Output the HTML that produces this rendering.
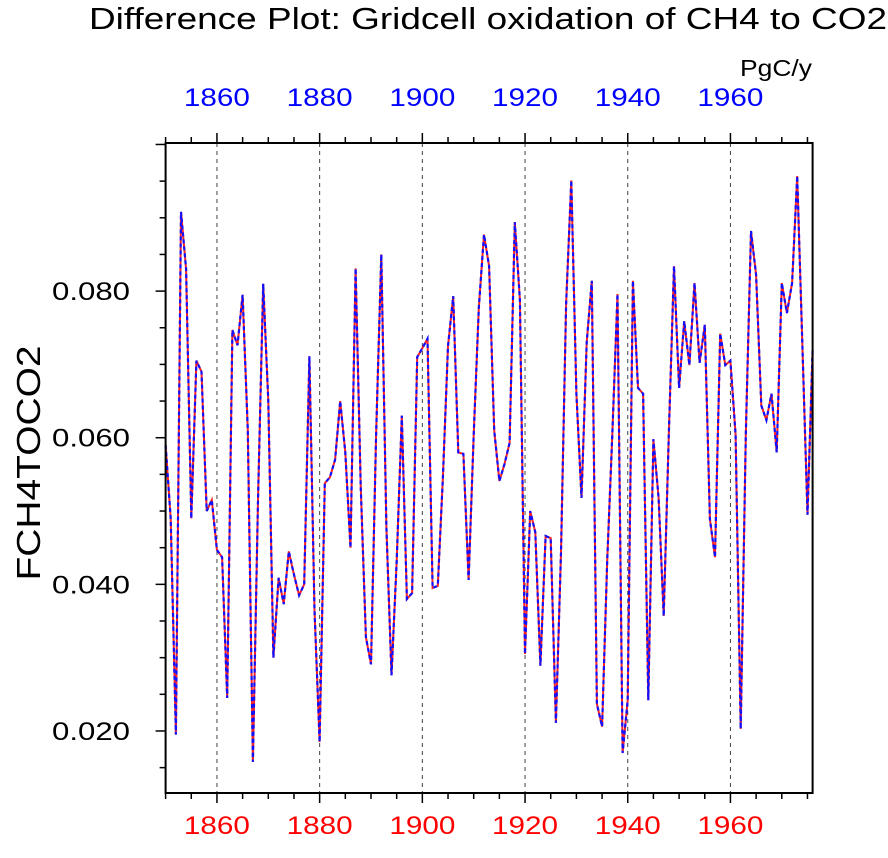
<!DOCTYPE html>
<html><head><meta charset="utf-8"><style>
body{margin:0;background:#fff;}
svg text{font-family:"Liberation Sans",Arial,sans-serif;}
</style></head><body>
<svg id="chart" width="888" height="853" xmlns="http://www.w3.org/2000/svg">
<text x="89" y="29" font-size="31" textLength="798" lengthAdjust="spacingAndGlyphs">Difference Plot: Gridcell oxidation of CH4 to CO2</text>
<text x="740" y="76" font-size="23" textLength="72" lengthAdjust="spacingAndGlyphs">PgC/y</text>
<text transform="translate(40,463) rotate(-90)" font-size="33" text-anchor="middle" textLength="235" lengthAdjust="spacingAndGlyphs">FCH4TOCO2</text>
<g id="grid"></g><g id="series"></g><g id="axes"></g>
</svg>
<script>
const years = [];
for (let y = 1850; y <= 1976; y++) years.push(y);
const seriesA = [0.059,0.049,0.0195,0.0908,0.083,0.049,0.0705,0.069,0.050,0.0515,
0.0447,0.0437,0.0245,0.0747,0.0726,0.0795,0.061,0.0158,0.0515,0.081,
0.065,0.030,0.0409,0.0373,0.0445,0.0413,0.0385,0.040,0.0711,0.0365,
0.0185,0.0538,0.0546,0.057,0.065,0.058,0.045,0.0831,0.0535,0.0328,
0.0291,0.0604,0.085,0.0478,0.0276,0.0432,0.063,0.038,0.0388,0.071,
0.0722,0.0735,0.0395,0.0398,0.0546,0.0725,0.0793,0.058,0.0578,0.0406,
0.0604,0.0777,0.0877,0.0834,0.061,0.0541,0.0564,0.0593,0.0894,0.0788,
0.0305,0.050,0.0471,0.0289,0.0466,0.0463,0.0211,0.0443,0.0782,0.0951,
0.066,0.0518,0.073,0.0814,0.0237,0.0206,0.0432,0.0604,0.0796,0.017,
0.0242,0.0814,0.0668,0.066,0.0242,0.0598,0.0518,0.0357,0.0604,0.0834,
0.0668,0.0759,0.0699,0.0811,0.0702,0.0754,0.0489,0.0437,0.0742,0.0699,
0.0705,0.0604,0.0203,0.0604,0.0882,0.0822,0.0644,0.0624,0.066,0.058,
0.0811,0.077,0.0811,0.0957,0.073,0.0495,0.072];
const seriesB = seriesA.slice();
const xTicks = [1860,1880,1900,1920,1940,1960];
const yTicks = [0.020,0.040,0.060,0.080];
const yTickLabels = ["0.020","0.040","0.060","0.080"];

const L=165.6,R=812.6,T=143,B=793,X0=1850,X1=1976,Y0=0.01154,Y1=0.1002;
const sx=v=>L+(v-X0)/(X1-X0)*(R-L);
const sy=v=>B-(v-Y0)/(Y1-Y0)*(B-T);
const NS="http://www.w3.org/2000/svg";
function mk(tag,attrs,parent,txt){const e=document.createElementNS(NS,tag);for(const k in attrs)e.setAttribute(k,attrs[k]);if(txt!==undefined)e.textContent=txt;parent.appendChild(e);return e;}
const grid=document.getElementById('grid'),ser=document.getElementById('series'),ax=document.getElementById('axes');
xTicks.forEach(t=>{
  const g=mk('line',{x1:sx(t),x2:sx(t),y1:T,y2:B,stroke:'#444','stroke-width':1,'stroke-dasharray':'4,4'},grid);
  
  
});
const pts=(arr)=>arr.map((v,i)=>sx(years[i]).toFixed(1)+','+sy(v).toFixed(1)).join(' ');
const a=mk('polyline',{points:pts(seriesA),fill:'none',stroke:'#ff2020','stroke-width':2},ser);


const b=mk('polyline',{points:pts(seriesB),fill:'none',stroke:'#1010ff','stroke-width':2.2,'stroke-dasharray':'4,3'},ser);


const fr=mk('rect',{x:L,y:T,width:R-L,height:B-T,fill:'none',stroke:'#000','stroke-width':2},ax);


for(let y=1850;y<=1976;y+=5){
  const maj=(y%20===0);const len=maj?10:6;
  mk('line',{x1:sx(y),x2:sx(y),y1:T,y2:T-len,stroke:'#000','stroke-width':1.5},ax);
  mk('line',{x1:sx(y),x2:sx(y),y1:B,y2:B+len,stroke:'#000','stroke-width':1.5},ax);
}
for(let k=0;k<=18;k++){
  const v=0.015+k*0.005; if(v>Y1) break;
  const maj=Math.abs((v*1000)%20)<0.01||Math.abs((v*1000)%20-20)<0.01;
  mk('line',{x1:L,x2:L-(maj?10:6),y1:sy(v),y2:sy(v),stroke:'#000','stroke-width':1.5},ax);
}
xTicks.forEach(t=>{
  const tt=mk('text',{x:sx(t),y:106,'font-size':25,fill:'#0000ff','text-anchor':'middle',textLength:66,lengthAdjust:'spacingAndGlyphs'},ax,String(t));
  
  
  const bt=mk('text',{x:sx(t),y:834,'font-size':25,fill:'#ff0000','text-anchor':'middle',textLength:66,lengthAdjust:'spacingAndGlyphs'},ax,String(t));
  
  
});
yTicks.forEach((t,i)=>{
  const yt=mk('text',{x:52,y:sy(t)+9,'font-size':25,textLength:78,lengthAdjust:'spacingAndGlyphs'},ax,yTickLabels[i]);
  
  
});
</script>
</body></html>
